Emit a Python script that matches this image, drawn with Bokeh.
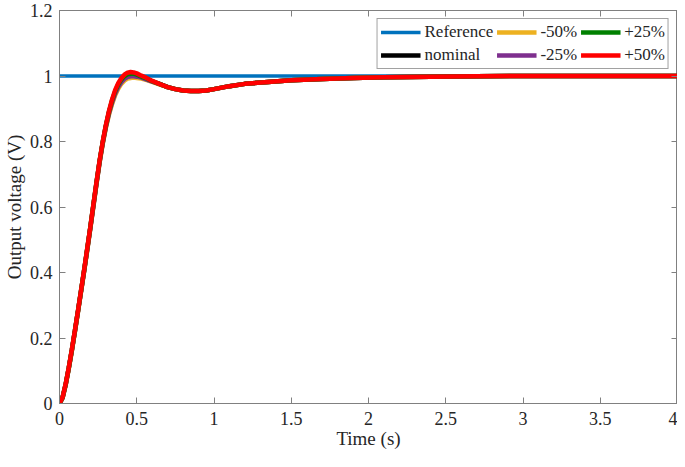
from bokeh.plotting import figure
from bokeh.models import (LinearAxis, FixedTicker, NumeralTickFormatter, Legend, LegendItem,
                          Range1d, CustomJSTickFormatter)
from bokeh.embed import file_html
from bokeh.resources import INLINE

# ---- data ----
t = [0, 0.02, 0.04, 0.06, 0.08, 0.10, 0.12, 0.14, 0.16, 0.18, 0.20, 0.22, 0.24, 0.26, 0.28,
     0.30, 0.32, 0.34, 0.36, 0.38, 0.40, 0.42, 0.44, 0.46, 0.48, 0.50, 0.53, 0.56, 0.60,
     0.65, 0.70, 0.75, 0.80, 0.85, 0.90, 0.95, 1.0, 1.1, 1.2, 1.35, 1.5, 1.7, 1.9, 2.1,
     2.4, 2.7, 3.0, 3.5, 4.0]

y_nominal = [0, 0.018, 0.058, 0.108, 0.163, 0.222, 0.283, 0.345, 0.407, 0.472, 0.538, 0.607,
             0.675, 0.740, 0.797, 0.846, 0.888, 0.922, 0.950, 0.970, 0.985, 0.995, 1.001,
             1.003, 1.003, 1.001, 0.997, 0.992, 0.984, 0.975, 0.966, 0.960, 0.956, 0.954,
             0.954, 0.956, 0.960, 0.969, 0.976, 0.982, 0.987, 0.991, 0.994, 0.996, 0.998,
             0.999, 1.000, 1.000, 1.000]

y_m50 = [0, 0.017, 0.056, 0.105, 0.160, 0.219, 0.280, 0.342, 0.404, 0.469, 0.535, 0.603,
         0.671, 0.736, 0.793, 0.841, 0.881, 0.914, 0.941, 0.961, 0.976, 0.986, 0.992,
         0.994, 0.995, 0.994, 0.992, 0.988, 0.982, 0.974, 0.966, 0.960, 0.956, 0.954,
         0.954, 0.956, 0.960, 0.969, 0.976, 0.982, 0.987, 0.991, 0.994, 0.996, 0.998,
         0.999, 1.000, 1.000, 1.000]

y_m25 = [0, 0.018, 0.057, 0.107, 0.162, 0.221, 0.282, 0.344, 0.406, 0.471, 0.537, 0.605,
         0.673, 0.738, 0.795, 0.844, 0.885, 0.918, 0.946, 0.966, 0.981, 0.991, 0.997,
         0.999, 0.999, 0.998, 0.995, 0.990, 0.983, 0.975, 0.966, 0.960, 0.956, 0.954,
         0.954, 0.956, 0.960, 0.969, 0.976, 0.982, 0.987, 0.991, 0.994, 0.996, 0.998,
         0.999, 1.000, 1.000, 1.000]

y_p25 = [0, 0.018, 0.059, 0.109, 0.164, 0.223, 0.284, 0.346, 0.409, 0.474, 0.540, 0.609,
         0.677, 0.742, 0.799, 0.848, 0.890, 0.925, 0.953, 0.974, 0.989, 0.999, 1.005,
         1.007, 1.007, 1.004, 0.998, 0.993, 0.984, 0.975, 0.966, 0.960, 0.956, 0.954,
         0.954, 0.956, 0.960, 0.969, 0.976, 0.982, 0.987, 0.991, 0.994, 0.996, 0.998,
         0.999, 1.000, 1.000, 1.000]

y_p50 = [0, 0.019, 0.060, 0.110, 0.165, 0.224, 0.285, 0.347, 0.410, 0.475, 0.541, 0.610,
         0.678, 0.743, 0.800, 0.850, 0.893, 0.928, 0.957, 0.978, 0.993, 1.004, 1.010,
         1.012, 1.011, 1.008, 1.001, 0.995, 0.985, 0.975, 0.966, 0.960, 0.956, 0.954,
         0.954, 0.956, 0.960, 0.969, 0.976, 0.982, 0.987, 0.991, 0.994, 0.996, 0.998,
         0.999, 1.000, 1.000, 1.000]

t_ref = [0, 4]
y_ref = [1, 1]

x_ticks = [0, 0.5, 1, 1.5, 2, 2.5, 3, 3.5, 4]
y_ticks = [0, 0.2, 0.4, 0.6, 0.8, 1.0, 1.2]

labels = ["Reference", "nominal", "-50%", "-25%", "+25%", "+50%"]
colors = ["#0072BD", "#000000", "#EDB120", "#7E2F8E", "#008000", "#FF0000"]

FONT = "Liberation Serif"
AX = "#808080"
TXT = "#262626"

p = figure(width=677, height=451, output_backend="svg", toolbar_location=None,
           x_range=Range1d(0, 4), y_range=Range1d(0, 1.2),
           min_border_left=30, min_border_right=0, min_border_top=10, min_border_bottom=30)
p.grid.visible = False
p.outline_line_color = AX
p.background_fill_color = "white"
p.border_fill_color = "white"

for ax, ticks in ((p.xaxis[0], x_ticks), (p.yaxis[0], y_ticks)):
    ax.ticker = FixedTicker(ticks=ticks)
    ax.formatter = NumeralTickFormatter(format="0.[0]")
    ax.axis_line_color = AX
    ax.major_tick_line_color = AX
    ax.major_tick_in = 6
    ax.major_tick_out = 0
    ax.minor_tick_line_color = None
    ax.major_label_text_font = FONT
    ax.major_label_text_font_size = "18px"
    ax.major_label_text_color = TXT
    ax.axis_label_text_font = FONT
    ax.axis_label_text_font_size = "19px"
    ax.axis_label_text_font_style = "normal"
    ax.axis_label_text_color = TXT

p.xaxis.axis_label = "Time (s)"
p.yaxis.axis_label = "Output voltage (V)"
p.xaxis.major_label_standoff = 8
p.xaxis.axis_label_standoff = 0
p.yaxis.major_label_standoff = 7
p.yaxis.axis_label_standoff = 2

for side, ticks in (("above", x_ticks), ("right", y_ticks)):
    ax = LinearAxis(ticker=FixedTicker(ticks=ticks), axis_line_color=AX,
                    major_tick_line_color=AX, major_tick_in=6, major_tick_out=0,
                    minor_tick_line_color=None,
                    formatter=CustomJSTickFormatter(code="return ''"),
                    major_label_standoff=0)
    p.add_layout(ax, side)

series = [(t_ref, y_ref), (t, y_nominal), (t, y_m50), (t, y_m25), (t, y_p25), (t, y_p50)]
items = []
for (xs, ys), lab, col in zip(series, labels, colors):
    lw = 3.5 if lab == "Reference" else 4.5
    r = p.line(xs, ys, line_color=col, line_width=lw)
    items.append(LegendItem(label=lab, renderers=[r]))

legend = Legend(items=items, location="top_right", ncols=3, orientation="vertical",
                label_text_font=FONT, label_text_font_size="17px", label_text_color=TXT,
                glyph_width=40, glyph_height=16, label_standoff=4, spacing=3,
                padding=3, margin=8,
                border_line_color="#444444", border_line_width=1, label_height=16)
p.add_layout(legend, "center")

open("out.html", "w").write(file_html(p, INLINE))
